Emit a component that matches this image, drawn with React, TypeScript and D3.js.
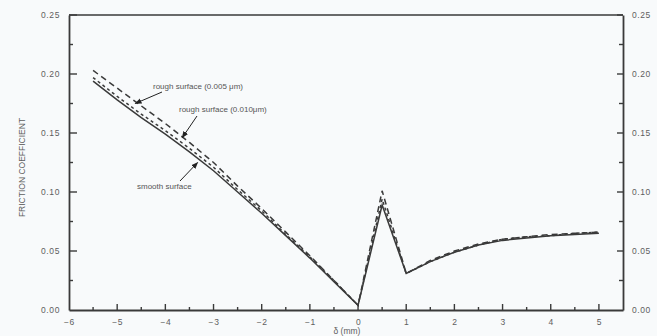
import React, { useEffect, useRef } from 'react';
import * as d3 from 'd3';

// x positions (mm) shared by all three curves
const xs = [-5.5, -5, -4.5, -4, -3.5, -3, -2.5, -2, -1.5, -1, -0.5, 0, 0.5, 1, 1.5, 2, 2.5, 3, 3.5, 4, 4.5, 5];

// friction coefficient
const smooth = [0.194, 0.178, 0.163, 0.149, 0.134, 0.118, 0.1, 0.082, 0.063, 0.044, 0.024, 0.004, 0.089, 0.031, 0.041, 0.049, 0.055, 0.059, 0.061, 0.063, 0.064, 0.065];
const rough005 = [0.203, 0.188, 0.173, 0.158, 0.142, 0.125, 0.105, 0.086, 0.066, 0.046, 0.025, 0.004, 0.101, 0.031, 0.042, 0.05, 0.056, 0.06, 0.062, 0.064, 0.065, 0.066];
const rough010 = [0.197, 0.181, 0.166, 0.152, 0.137, 0.121, 0.102, 0.084, 0.064, 0.045, 0.025, 0.004, 0.094, 0.031, 0.041, 0.049, 0.055, 0.06, 0.062, 0.063, 0.065, 0.066];

const xTicks = [-6, -5, -4, -3, -2, -1, 0, 1, 2, 3, 4, 5];
const yTicks = [0, 0.05, 0.1, 0.15, 0.2, 0.25];

const W = 657;
const H = 336;
const ink = '#3a3a3a';
const labelInk = '#5e5e5e';

function Chart() {
  const ref = useRef<SVGSVGElement | null>(null);

  useEffect(() => {
    const svg = d3.select(ref.current);
    svg.selectAll('*').remove();

    const x = d3.scaleLinear().domain([-6, 5.5]).range([69, 623]);
    const y = d3.scaleLinear().domain([0, 0.25]).range([310, 15]);

    const font = 'Liberation Sans, Arial, sans-serif';

    // frame
    svg.append('line').attr('x1', x(-6)).attr('x2', x(5.5)).attr('y1', y(0.25)).attr('y2', y(0.25))
      .attr('stroke', ink).attr('stroke-width', 1.3);

    const bottom = svg.append('g').attr('transform', `translate(0,${y(0)})`)
      .call(d3.axisBottom(x).tickValues(xTicks).tickSize(0).tickPadding(9).tickFormat(d3.format('d')));
    const left = svg.append('g').attr('transform', `translate(${x(-6)},0)`)
      .call(d3.axisLeft(y).tickValues(yTicks).tickSize(0).tickPadding(9).tickFormat(d3.format('.2f')));
    const right = svg.append('g').attr('transform', `translate(${x(5.5)},0)`)
      .call(d3.axisRight(y).tickValues(yTicks).tickSize(0).tickPadding(9).tickFormat(d3.format('.2f')));

    [bottom, left, right].forEach(g => {
      g.select('.domain').attr('stroke', ink).attr('stroke-width', 1.8);
      g.selectAll('text').attr('fill', labelInk).attr('font-family', font)
        .attr('font-size', 8.5).attr('letter-spacing', 0.6);
    });

    // inward ticks
    const xMinor = d3.range(-5.5, 5.01, 0.5);
    svg.append('g').selectAll('line').data(xMinor).join('line')
      .attr('x1', d => x(d)).attr('x2', d => x(d))
      .attr('y1', y(0)).attr('y2', d => y(0) - (Number.isInteger(d) ? 6 : 3))
      .attr('stroke', ink).attr('stroke-width', 1.4);

    const yMinor = d3.range(0.025, 0.2501, 0.025);
    svg.append('g').selectAll('line').data(yMinor).join('line')
      .attr('x1', x(-6)).attr('x2', d => x(-6) + (Math.round(d * 1000) % 50 === 0 ? 8 : 4))
      .attr('y1', d => y(d)).attr('y2', d => y(d))
      .attr('stroke', ink).attr('stroke-width', 1.4);
    svg.append('g').selectAll('line').data(yMinor).join('line')
      .attr('x1', x(5.5)).attr('x2', d => x(5.5) - (Math.round(d * 1000) % 50 === 0 ? 6 : 4))
      .attr('y1', d => y(d)).attr('y2', d => y(d))
      .attr('stroke', ink).attr('stroke-width', 1.4);

    // curves
    const line = d3.line<number>().x((_, i) => x(xs[i])).y(d => y(d));
    const series = [
      { v: rough005, dash: '6,4' },
      { v: rough010, dash: '3,3' },
      { v: smooth, dash: null },
    ];
    series.forEach(s => {
      svg.append('path').datum(s.v).attr('d', line)
        .attr('fill', 'none').attr('stroke', ink).attr('stroke-width', 1.5)
        .attr('stroke-dasharray', s.dash);
    });

    // annotations
    svg.append('defs').append('marker').attr('id', 'ah')
      .attr('viewBox', '0 0 10 10').attr('refX', 9).attr('refY', 5)
      .attr('markerWidth', 7).attr('markerHeight', 7).attr('orient', 'auto')
      .append('path').attr('d', 'M0,1 L10,5 L0,9 z').attr('fill', '#222');

    const notes = [
      { text: 'rough surface (0.005 \u03bcm)', tx: 153, ty: 89, sx: 162, sy: 92, px: -4.625, v: 0.175 },
      { text: 'rough surface (0.010\u03bcm)', tx: 179, ty: 112, sx: 197, sy: 116, px: -3.65, v: 0.146 },
      { text: 'smooth surface', tx: 137, ty: 189, sx: 180, sy: 181, px: -3.33, v: 0.125 },
    ];
    notes.forEach(n => {
      svg.append('text').attr('x', n.tx).attr('y', n.ty).text(n.text)
        .attr('font-family', font).attr('font-size', 8).attr('fill', '#555');
      svg.append('line').attr('x1', n.sx).attr('y1', n.sy).attr('x2', x(n.px)).attr('y2', y(n.v))
        .attr('stroke', '#222').attr('stroke-width', 1).attr('marker-end', 'url(#ah)');
    });

    // axis titles
    svg.append('text').attr('transform', `translate(25,${(y(0) + y(0.25)) / 2 + 5}) rotate(-90)`)
      .attr('text-anchor', 'middle').attr('font-family', font).attr('font-size', 8.5)
      .attr('fill', labelInk).text('FRICTION COEFFICIENT');
    svg.append('text').attr('x', 347).attr('y', 334).attr('text-anchor', 'middle')
      .attr('font-family', font).attr('font-size', 8.5).attr('fill', labelInk).text('\u03b4 (mm)');
  }, []);

  return (
    <svg
      ref={ref}
      width={W}
      height={H}
      style={{ position: 'absolute', left: 0, top: 0, background: '#f8fafb' }}
    />
  );
}

export default function App() {
  return <Chart />;
}
